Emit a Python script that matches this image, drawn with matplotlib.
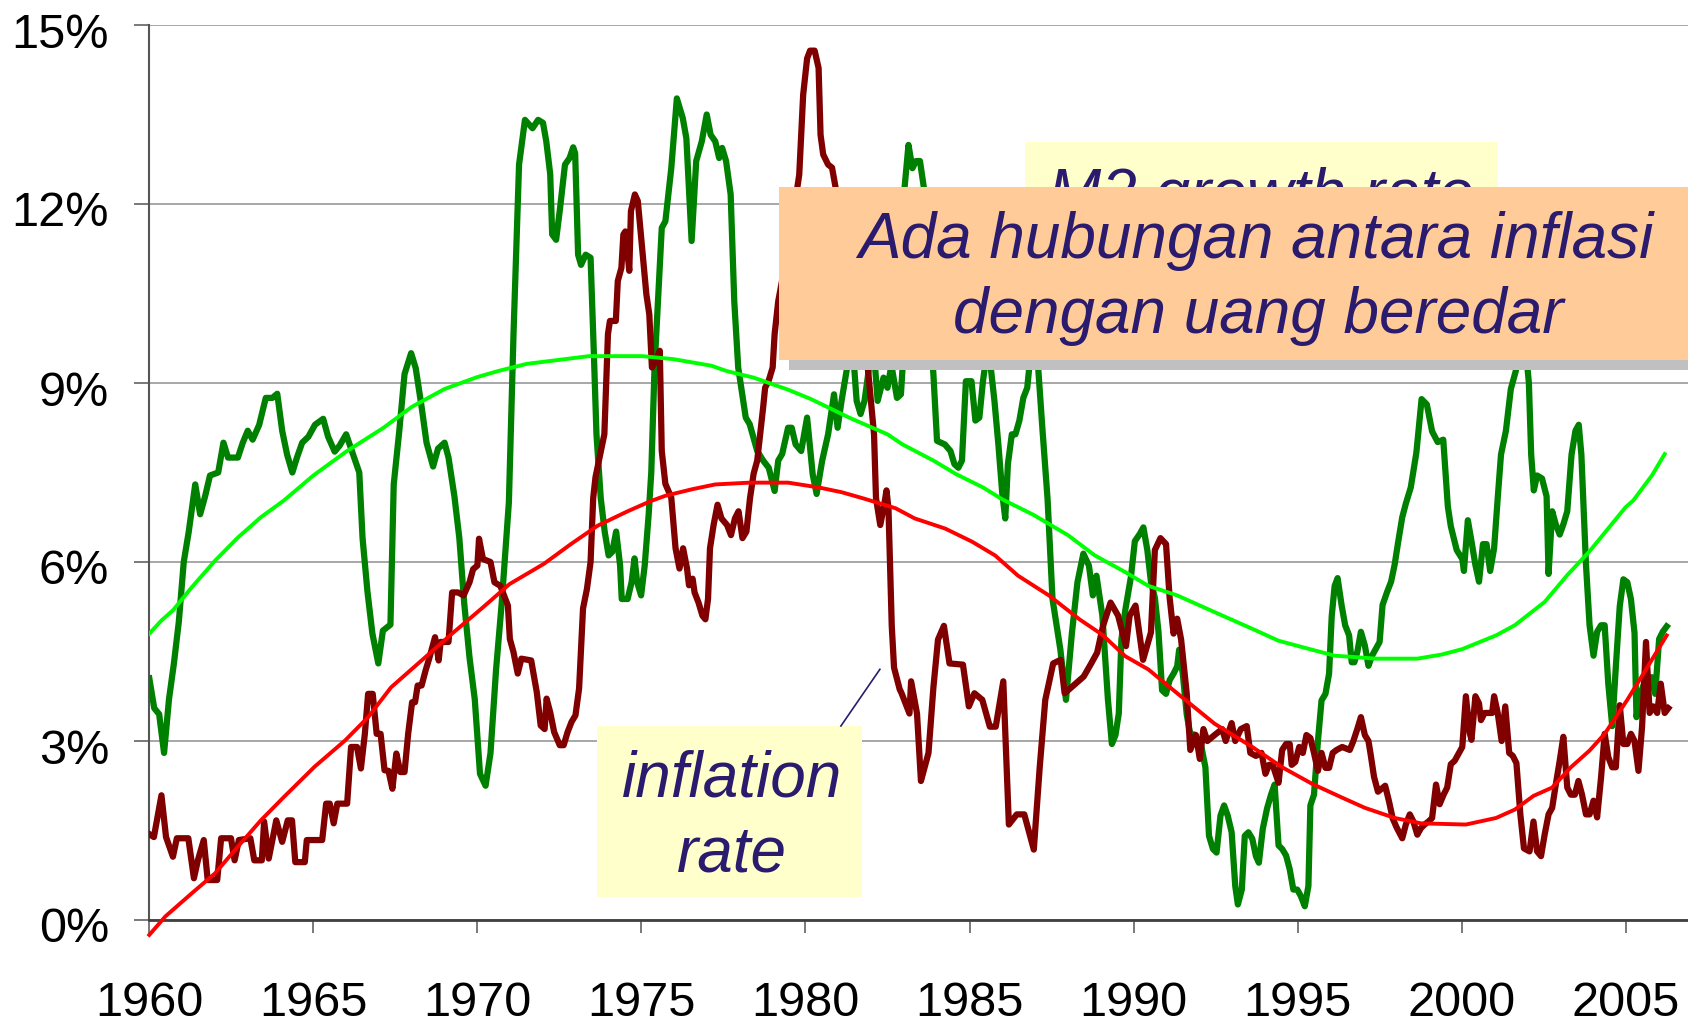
import matplotlib
matplotlib.use('Agg')
import matplotlib.pyplot as plt
from matplotlib.patches import Rectangle
from matplotlib.lines import Line2D
from matplotlib.transforms import ScaledTranslation

plt.rcParams['font.family'] = ['Liberation Sans', 'DejaVu Sans']

# M2 growth rate, % (dark green)
m2_years = [1960.00, 1960.15, 1960.30, 1960.45, 1960.60, 1960.75, 1960.90, 1961.05, 1961.20, 1961.40,
            1961.55, 1961.70, 1961.85, 1962.10, 1962.26, 1962.40, 1962.70, 1962.85, 1963.00, 1963.15,
            1963.35, 1963.55, 1963.75, 1963.90, 1964.05, 1964.20, 1964.36, 1964.50, 1964.66, 1964.85,
            1965.05, 1965.30, 1965.45, 1965.65, 1965.80, 1966.00, 1966.15, 1966.40, 1966.50, 1966.65,
            1966.80, 1966.98, 1967.12, 1967.35, 1967.45, 1967.62, 1967.78, 1967.98, 1968.12, 1968.30,
            1968.45, 1968.65, 1968.80, 1969.00, 1969.12, 1969.30, 1969.45, 1969.60, 1969.76, 1969.92,
            1970.08, 1970.25, 1970.40, 1970.57, 1970.74, 1970.96, 1971.10, 1971.27, 1971.45, 1971.68,
            1971.85, 1972.00, 1972.10, 1972.22, 1972.28, 1972.40, 1972.52, 1972.67, 1972.81, 1972.92,
            1972.98, 1973.07, 1973.16, 1973.30, 1973.45, 1973.55, 1973.63, 1973.76, 1973.88, 1974.00,
            1974.11, 1974.23, 1974.35, 1974.40, 1974.58, 1974.70, 1974.79, 1974.87, 1974.99, 1975.10,
            1975.22, 1975.30, 1975.40, 1975.62, 1975.73, 1975.91, 1976.08, 1976.26, 1976.37, 1976.53,
            1976.67, 1976.84, 1976.99, 1977.11, 1977.25, 1977.37, 1977.46, 1977.58, 1977.72, 1977.83,
            1977.95, 1978.18, 1978.30, 1978.53, 1978.71, 1978.88, 1979.06, 1979.17, 1979.29, 1979.47,
            1979.58, 1979.70, 1979.87, 1980.05, 1980.22, 1980.34, 1980.51, 1980.69, 1980.87, 1980.98,
            1981.10, 1981.27, 1981.40, 1981.56, 1981.68, 1981.80, 1981.91, 1982.05, 1982.20, 1982.38,
            1982.50, 1982.62, 1982.79, 1982.91, 1982.96, 1983.02, 1983.14, 1983.26, 1983.37, 1983.49,
            1983.61, 1983.75, 1983.90, 1984.01, 1984.25, 1984.42, 1984.54, 1984.66, 1984.77, 1984.89,
            1985.06, 1985.18, 1985.30, 1985.41, 1985.55, 1985.66, 1985.76, 1985.88, 1986.00, 1986.09,
            1986.17, 1986.29, 1986.40, 1986.52, 1986.64, 1986.76, 1986.90, 1987.05, 1987.22, 1987.38,
            1987.53, 1987.77, 1987.94, 1988.12, 1988.29, 1988.47, 1988.64, 1988.76, 1988.87, 1989.05,
            1989.22, 1989.34, 1989.45, 1989.55, 1989.63, 1989.75, 1989.92, 1990.04, 1990.19, 1990.30,
            1990.42, 1990.53, 1990.65, 1990.76, 1990.87, 1990.99, 1991.10, 1991.22, 1991.33, 1991.39,
            1991.50, 1991.62, 1991.73, 1991.85, 1991.96, 1992.07, 1992.19, 1992.30, 1992.42, 1992.53,
            1992.65, 1992.76, 1992.87, 1992.99, 1993.10, 1993.18, 1993.30, 1993.39, 1993.50, 1993.62,
            1993.73, 1993.82, 1993.94, 1994.07, 1994.19, 1994.30, 1994.42, 1994.53, 1994.65, 1994.76,
            1994.87, 1994.99, 1995.10, 1995.22, 1995.33, 1995.39, 1995.50, 1995.62, 1995.73, 1995.85,
            1995.96, 1996.04, 1996.13, 1996.22, 1996.34, 1996.45, 1996.57, 1996.65, 1996.73, 1996.82,
            1996.93, 1997.05, 1997.16, 1997.27, 1997.39, 1997.50, 1997.59, 1997.73, 1997.85, 1997.96,
            1998.07, 1998.19, 1998.30, 1998.45, 1998.62, 1998.78, 1998.94, 1999.10, 1999.27, 1999.44,
            1999.58, 1999.67, 1999.85, 2000.02, 2000.07, 2000.19, 2000.30, 2000.42, 2000.53, 2000.65,
            2000.76, 2000.87, 2000.99, 2001.10, 2001.20, 2001.35, 2001.50, 2001.65, 2001.80, 2001.95,
            2002.05, 2002.12, 2002.20, 2002.30, 2002.45, 2002.59, 2002.65, 2002.76, 2002.87, 2002.99,
            2003.10, 2003.22, 2003.35, 2003.47, 2003.57, 2003.65, 2003.79, 2003.90, 2004.02, 2004.13,
            2004.25, 2004.36, 2004.47, 2004.59, 2004.70, 2004.82, 2004.93, 2005.05, 2005.16, 2005.27,
            2005.33, 2005.45, 2005.56, 2005.67, 2005.79, 2005.90, 2006.02, 2006.13, 2006.25]
m2_rate = [4.05, 3.55, 3.45, 2.80, 3.70, 4.30, 5.00, 6.00, 6.50, 7.30,
           6.80, 7.10, 7.45, 7.50, 8.00, 7.75, 7.75, 8.00, 8.20, 8.05,
           8.30, 8.75, 8.75, 8.82, 8.20, 7.80, 7.50, 7.75, 8.00, 8.10,
           8.30, 8.40, 8.10, 7.85, 7.95, 8.14, 7.90, 7.50, 6.40, 5.50,
           4.80, 4.30, 4.85, 4.95, 7.30, 8.20, 9.15, 9.50, 9.25, 8.60,
           8.00, 7.60, 7.90, 8.00, 7.75, 7.10, 6.40, 5.30, 4.40, 3.70,
           2.45, 2.25, 2.80, 4.20, 5.30, 7.00, 9.80, 12.66, 13.41, 13.27,
           13.41, 13.36, 13.05, 12.50, 11.49, 11.40, 11.93, 12.66, 12.77, 12.95,
           12.85, 11.15, 10.98, 11.15, 11.10, 9.50, 8.14, 7.07, 6.51, 6.11,
           6.17, 6.51, 5.94, 5.38, 5.38, 5.66, 6.06, 5.66, 5.44, 5.94,
           6.79, 7.50, 9.26, 11.60, 11.71, 12.60, 13.77, 13.44, 13.10, 11.38,
           12.72, 13.05, 13.50, 13.16, 13.05, 12.77, 12.94, 12.72, 12.16, 10.37,
           9.26, 8.42, 8.31, 7.86, 7.70, 7.58, 7.19, 7.70, 7.81, 8.25,
           8.25, 7.97, 7.86, 8.42, 7.47, 7.14, 7.70, 8.14, 8.81, 8.25,
           8.70, 9.26, 9.90, 8.70, 8.48, 8.70, 9.14, 9.80, 8.70, 9.09,
           8.92, 9.30, 8.75, 8.81, 9.26, 12.27, 12.99, 12.60, 12.72, 12.72,
           12.27, 10.50, 9.14, 8.03, 7.97, 7.86, 7.64, 7.58, 7.70, 9.03,
           9.03, 8.37, 8.42, 9.03, 9.60, 9.20, 8.70, 7.97, 7.14, 6.73,
           7.64, 8.14, 8.14, 8.37, 8.75, 8.92, 9.70, 9.60, 8.25, 7.05,
           5.38, 4.53, 3.69, 4.80, 5.66, 6.14, 5.94, 5.44, 5.77, 5.10,
           3.69, 2.95, 3.10, 3.46, 4.70, 5.20, 5.75, 6.35, 6.47, 6.58,
           6.20, 5.67, 5.40, 4.83, 3.85, 3.79, 4.02, 4.13, 4.25, 4.53,
           4.13, 3.45, 3.11, 3.11, 3.00, 2.90, 2.56, 1.41, 1.19, 1.13,
           1.75, 1.92, 1.75, 1.47, 0.57, 0.26, 0.51, 1.41, 1.47, 1.36,
           1.07, 0.96, 1.53, 1.87, 2.10, 2.27, 1.25, 1.19, 1.08, 0.85,
           0.51, 0.51, 0.40, 0.23, 0.57, 1.92, 2.10, 3.00, 3.68, 3.79,
           4.13, 5.09, 5.60, 5.73, 5.28, 4.94, 4.77, 4.32, 4.32, 4.49,
           4.83, 4.60, 4.26, 4.43, 4.55, 4.66, 5.28, 5.50, 5.67, 5.96,
           6.35, 6.75, 6.98, 7.25, 7.83, 8.73, 8.64, 8.19, 8.01, 8.05,
           6.93, 6.60, 6.20, 6.05, 5.85, 6.70, 6.35, 5.95, 5.67, 6.30,
           6.30, 5.85, 6.23, 7.07, 7.80, 8.20, 8.90, 9.20, 9.80, 9.60,
           9.00, 7.80, 7.20, 7.45, 7.40, 7.10, 5.80, 6.85, 6.63, 6.46,
           6.63, 6.85, 7.80, 8.20, 8.30, 7.80, 5.96, 4.94, 4.43, 4.83,
           4.94, 4.94, 3.96, 3.25, 4.24, 5.26, 5.71, 5.66, 5.38, 4.81,
           3.40, 3.79, 3.96, 4.02, 4.07, 3.79, 4.71, 4.83, 4.92]

# inflation rate, % (dark red)
inf_years = [1960.00, 1960.14, 1960.37, 1960.51, 1960.72, 1960.84, 1961.19, 1961.36, 1961.48, 1961.66,
             1961.78, 1962.07, 1962.19, 1962.49, 1962.60, 1962.73, 1963.08, 1963.20, 1963.43, 1963.50,
             1963.64, 1963.87, 1964.05, 1964.22, 1964.35, 1964.45, 1964.74, 1964.80, 1965.27, 1965.39,
             1965.50, 1965.62, 1965.73, 1966.03, 1966.15, 1966.33, 1966.45, 1966.57, 1966.67, 1966.81,
             1966.93, 1967.05, 1967.17, 1967.29, 1967.41, 1967.53, 1967.65, 1967.78, 1967.89, 1968.01,
             1968.10, 1968.18, 1968.30, 1968.42, 1968.53, 1968.71, 1968.82, 1968.88, 1969.12, 1969.23,
             1969.41, 1969.58, 1969.76, 1969.87, 1970.00, 1970.05, 1970.17, 1970.40, 1970.52, 1970.70,
             1970.93, 1970.99, 1971.10, 1971.23, 1971.34, 1971.64, 1971.81, 1971.93, 1972.05, 1972.11,
             1972.22, 1972.34, 1972.51, 1972.63, 1972.75, 1972.87, 1972.99, 1973.10, 1973.22, 1973.34,
             1973.45, 1973.53, 1973.60, 1973.87, 1973.98, 1974.04, 1974.22, 1974.28, 1974.39, 1974.45,
             1974.51, 1974.63, 1974.68, 1974.80, 1974.89, 1975.03, 1975.15, 1975.24, 1975.32, 1975.44,
             1975.56, 1975.62, 1975.73, 1975.91, 1976.04, 1976.16, 1976.27, 1976.39, 1976.45, 1976.56,
             1976.62, 1976.74, 1976.86, 1976.95, 1977.03, 1977.09, 1977.20, 1977.32, 1977.44, 1977.61,
             1977.73, 1977.85, 1977.96, 1978.08, 1978.20, 1978.31, 1978.42, 1978.53, 1978.71, 1978.77,
             1978.88, 1979.00, 1979.06, 1979.17, 1979.35, 1979.50, 1979.65, 1979.81, 1979.93, 1980.05,
             1980.14, 1980.28, 1980.40, 1980.46, 1980.54, 1980.69, 1980.81, 1980.92, 1981.10, 1981.30,
             1981.50, 1981.70, 1981.91, 1982.09, 1982.15, 1982.28, 1982.40, 1982.47, 1982.53, 1982.63,
             1982.70, 1982.87, 1982.93, 1983.17, 1983.22, 1983.40, 1983.52, 1983.75, 1983.90, 1984.04,
             1984.22, 1984.39, 1984.80, 1984.98, 1985.15, 1985.39, 1985.62, 1985.80, 1986.03, 1986.20,
             1986.44, 1986.67, 1986.96, 1987.14, 1987.31, 1987.55, 1987.78, 1987.90, 1988.25, 1988.48,
             1988.71, 1988.89, 1989.07, 1989.30, 1989.53, 1989.77, 1989.88, 1990.06, 1990.29, 1990.53,
             1990.65, 1990.82, 1990.99, 1991.10, 1991.22, 1991.33, 1991.45, 1991.62, 1991.73, 1991.90,
             1992.02, 1992.13, 1992.25, 1992.47, 1992.70, 1992.81, 1992.99, 1993.10, 1993.27, 1993.45,
             1993.56, 1993.73, 1993.90, 1994.02, 1994.13, 1994.25, 1994.30, 1994.42, 1994.53, 1994.65,
             1994.76, 1994.82, 1994.93, 1995.05, 1995.16, 1995.27, 1995.39, 1995.50, 1995.62, 1995.73,
             1995.85, 1995.96, 1996.07, 1996.19, 1996.36, 1996.59, 1996.70, 1996.82, 1996.93, 1997.05,
             1997.16, 1997.22, 1997.33, 1997.45, 1997.56, 1997.67, 1997.79, 1997.90, 1998.02, 1998.19,
             1998.30, 1998.42, 1998.53, 1998.65, 1998.76, 1998.87, 1998.99, 1999.10, 1999.22, 1999.33,
             1999.45, 1999.56, 1999.67, 1999.79, 1999.90, 2000.02, 2000.13, 2000.25, 2000.30, 2000.42,
             2000.53, 2000.59, 2000.70, 2000.93, 2000.99, 2001.10, 2001.22, 2001.33, 2001.45, 2001.56,
             2001.67, 2001.79, 2001.90, 2002.07, 2002.19, 2002.30, 2002.42, 2002.53, 2002.65, 2002.76,
             2002.87, 2002.99, 2003.10, 2003.22, 2003.33, 2003.45, 2003.56, 2003.67, 2003.79, 2003.90,
             2004.02, 2004.13, 2004.25, 2004.36, 2004.47, 2004.59, 2004.70, 2004.82, 2004.93, 2005.05,
             2005.16, 2005.27, 2005.39, 2005.50, 2005.62, 2005.73, 2005.84, 2005.96, 2006.07, 2006.19,
             2006.30]
inf_rate = [1.44, 1.39, 2.09, 1.39, 1.06, 1.37, 1.37, 0.70, 1.00, 1.34,
            0.67, 0.67, 1.37, 1.37, 1.00, 1.34, 1.37, 1.00, 1.00, 1.65,
            1.03, 1.67, 1.31, 1.67, 1.67, 0.97, 0.97, 1.34, 1.34, 1.95,
            1.95, 1.62, 1.95, 1.95, 2.90, 2.90, 2.54, 3.12, 3.79, 3.79,
            3.12, 3.12, 2.51, 2.50, 2.20, 2.79, 2.48, 2.48, 3.12, 3.65,
            3.65, 3.93, 3.93, 4.18, 4.38, 4.74, 4.35, 4.66, 4.66, 5.49,
            5.49, 5.44, 5.66, 5.88, 5.94, 6.39, 6.05, 6.00, 5.66, 5.60,
            5.27, 4.71, 4.49, 4.13, 4.38, 4.35, 3.82, 3.26, 3.20, 3.71,
            3.48, 3.15, 2.93, 2.93, 3.15, 3.32, 3.43, 3.88, 5.22, 5.55,
            6.00, 7.07, 7.42, 8.14, 9.82, 10.04, 10.04, 10.71, 10.93, 11.49,
            11.54, 10.88, 11.88, 12.16, 12.05, 11.21, 10.49, 10.15, 9.26, 9.37,
            9.54, 7.86, 7.31, 7.08, 6.23, 5.89, 6.23, 5.89, 5.61, 5.72,
            5.49, 5.32, 5.10, 5.04, 5.38, 6.23, 6.62, 6.96, 6.73, 6.62,
            6.45, 6.73, 6.85, 6.40, 6.51, 7.07, 7.48, 7.70, 8.59, 8.92,
            9.04, 9.26, 9.82, 10.37, 10.90, 11.40, 11.90, 12.49, 13.83, 14.44,
            14.57, 14.57, 14.28, 13.16, 12.83, 12.66, 12.61, 12.27, 11.80, 11.20,
            10.60, 10.00, 9.20, 8.14, 7.07, 6.62, 6.96, 7.20, 6.90, 4.93,
            4.23, 3.87, 3.80, 3.46, 4.00, 3.46, 2.33, 2.80, 3.90, 4.70,
            4.93, 4.30, 4.28, 3.58, 3.80, 3.69, 3.24, 3.24, 4.00, 1.60,
            1.77, 1.77, 1.18, 2.56, 3.69, 4.30, 4.36, 3.80, 3.97, 4.08,
            4.30, 4.48, 4.93, 5.32, 5.10, 4.59, 5.10, 5.27, 4.36, 4.82,
            6.20, 6.40, 6.30, 5.40, 4.80, 5.05, 4.70, 3.80, 2.85, 3.10,
            2.70, 3.20, 3.00, 3.10, 3.20, 3.00, 3.30, 3.00, 3.20, 3.25,
            2.80, 2.75, 2.80, 2.45, 2.60, 2.60, 2.50, 2.30, 2.85, 2.95,
            2.95, 2.60, 2.65, 2.90, 2.80, 3.10, 3.05, 2.80, 2.50, 2.80,
            2.55, 2.55, 2.80, 2.85, 2.90, 2.85, 3.00, 3.20, 3.40, 3.10,
            3.00, 2.80, 2.40, 2.15, 2.20, 2.25, 1.98, 1.70, 1.55, 1.37,
            1.60, 1.77, 1.65, 1.43, 1.54, 1.60, 1.65, 1.71, 2.27, 1.94,
            2.10, 2.22, 2.61, 2.67, 2.78, 2.90, 3.75, 3.13, 3.02, 3.75,
            3.63, 3.35, 3.47, 3.47, 3.75, 3.47, 3.00, 3.58, 2.80, 2.75,
            2.63, 1.77, 1.20, 1.15, 1.65, 1.15, 1.07, 1.43, 1.77, 1.88,
            2.27, 2.67, 3.07, 2.22, 2.10, 2.10, 2.33, 2.10, 1.77, 1.77,
            2.00, 1.72, 2.39, 3.12, 2.73, 2.56, 2.56, 3.60, 2.95, 2.95,
            3.12, 3.00, 2.50, 3.24, 4.66, 3.47, 3.58, 3.47, 3.96, 3.47,
            3.55]

# trend of M2 growth (light green)
m2_trend_years = [1960.0, 1960.37, 1960.72, 1961.3, 1962.0, 1962.7, 1963.4, 1964.1, 1965.0, 1966.0,
                  1967.14, 1968.0, 1969.0, 1970.0, 1970.63, 1971.5, 1972.23, 1973.4, 1975.03, 1975.97,
                  1977.13, 1977.6, 1978.42, 1979.46, 1980.17, 1981.33, 1982.5, 1982.96, 1983.9, 1984.6,
                  1985.41, 1986.0, 1986.95, 1988.0, 1988.82, 1989.75, 1990.45, 1991.33, 1992.47, 1993.62,
                  1994.42, 1995.3, 1996.13, 1997.4, 1998.65, 1999.4, 2000.02, 2001.05, 2001.62, 2002.53,
                  2003.22, 2003.9, 2005.0, 2005.23, 2005.8, 2006.19]
m2_trend = [4.80, 5.02, 5.19, 5.58, 6.02, 6.41, 6.75, 7.03, 7.45, 7.85,
            8.25, 8.60, 8.90, 9.10, 9.20, 9.32, 9.37, 9.45, 9.45, 9.40,
            9.29, 9.20, 9.09, 8.89, 8.73, 8.42, 8.14, 7.97, 7.70, 7.47,
            7.25, 7.05, 6.79, 6.45, 6.11, 5.83, 5.60, 5.44, 5.16, 4.88,
            4.68, 4.55, 4.43, 4.38, 4.38, 4.45, 4.54, 4.77, 4.94, 5.33,
            5.78, 6.18, 6.92, 7.03, 7.45, 7.81]

# trend of inflation (red)
inf_trend_years = [1960.0, 1960.49, 1961.3, 1962.0, 1962.7, 1963.4, 1964.1, 1965.04, 1965.97, 1966.67,
                   1967.37, 1968.3, 1969.23, 1970.17, 1970.98, 1972.03, 1972.85, 1973.67, 1974.58, 1975.28,
                   1975.73, 1976.55, 1977.25, 1978.3, 1979.47, 1980.4, 1981.1, 1981.8, 1982.75, 1983.33,
                   1984.26, 1985.08, 1985.78, 1986.48, 1987.42, 1988.35, 1989.05, 1989.75, 1990.45, 1991.33,
                   1992.47, 1993.62, 1994.53, 1995.45, 1996.36, 1997.05, 1997.96, 1998.76, 2000.13, 2001.05,
                   2001.62, 2002.19, 2002.76, 2003.33, 2003.9, 2004.36, 2005.05, 2005.62, 2006.25]
inf_trend = [-0.25, 0.06, 0.45, 0.78, 1.23, 1.67, 2.06, 2.57, 3.01, 3.40,
             3.90, 4.35, 4.80, 5.24, 5.63, 5.97, 6.30, 6.61, 6.85, 7.02,
             7.11, 7.22, 7.30, 7.33, 7.33, 7.25, 7.17, 7.06, 6.90, 6.73,
             6.56, 6.34, 6.11, 5.77, 5.44, 5.04, 4.78, 4.42, 4.20, 3.80,
             3.29, 2.90, 2.56, 2.28, 2.05, 1.88, 1.71, 1.62, 1.60, 1.71,
             1.85, 2.08, 2.22, 2.56, 2.84, 3.12, 3.69, 4.20, 4.77]

y_ticks = [0, 3, 6, 9, 12, 15]
y_labels = ['0%', '3%', '6%', '9%', '12%', '15%']
x_ticks = [1960, 1965, 1970, 1975, 1980, 1985, 1990, 1995, 2000, 2005]

W, H = 1688, 1026
fig = plt.figure(figsize=(W / 100, H / 100), dpi=100)
ax = fig.add_axes([149.3 / W, 1 - 920 / H, 1 - 149.3 / W, (920 - 25) / H])

ax.plot(m2_years, m2_rate, color='#008000', lw=4.5, zorder=3, solid_joinstyle='round')
ax.plot(inf_years, inf_rate, color='#800000', lw=4.5, zorder=4, solid_joinstyle='round')
ax.plot(m2_trend_years, m2_trend, color='#00FF00', lw=2.8, zorder=5)
ax.plot(inf_trend_years, inf_trend, color='#FF0000', lw=2.8, zorder=6, clip_on=False)

ax.set_xlim(1960, 2006.9)
ax.set_ylim(0, 15)
ax.set_yticks(y_ticks)
ax.set_yticklabels(y_labels)
ax.set_xticks(x_ticks)
ax.grid(axis='y', color='#a0a0a0', lw=1.3)
ax.set_axisbelow(True)
for s in ['top', 'right']:
    ax.spines[s].set_visible(False)
ax.spines['left'].set_color('#555555')
ax.spines['left'].set_linewidth(1.5)
ax.spines['bottom'].set_color('#404040')
ax.spines['bottom'].set_linewidth(2)
ax.tick_params(axis='y', direction='out', length=11, width=1.1, color='#555555',
               labelsize=35, pad=18)
ax.tick_params(axis='x', direction='out', length=9.6, width=1.1, color='#555555',
               labelsize=35, pad=34)
offset = ScaledTranslation(0, -0.05, fig.dpi_scale_trans)
for lab in ax.get_yticklabels():
    lab.set_transform(lab.get_transform() + offset)


def box(x0, y0, x1, y1, color, z):
    fig.add_artist(Rectangle((x0 / W, 1 - y1 / H), (x1 - x0) / W, (y1 - y0) / H,
                             transform=fig.transFigure, facecolor=color,
                             edgecolor='none', zorder=z))


def label(x, y, s, z):
    fig.text(x / W, 1 - y / H, s, ha='center', va='baseline', fontsize=46,
             style='italic', color='#2A1B6E', zorder=z)


# annotation boxes
box(1024.6, 141.7, 1497.5, 270, '#FFFFCC', 10)
label(1261, 214, 'M2 growth rate', 11)
box(789.2, 198, 1700, 370, '#C0C0C0', 12)
box(778.5, 187.3, 1700, 360, '#FFCC99', 13)
label(1256, 258.3, 'Ada hubungan antara inflasi', 14)
label(1258, 333.3, 'dengan uang beredar', 14)

box(597.1, 726, 861.9, 896.7, '#FFFFCC', 10)
label(731.8, 796.7, 'inflation', 11)
label(731.5, 871.7, 'rate', 11)
fig.add_artist(Line2D([840.9 / W, 879.9 / W], [1 - 726 / H, 1 - 669.3 / H],
                      transform=fig.transFigure, color='#2A1B6E', lw=1.2, zorder=11))

fig.savefig('out.png', dpi=100)
